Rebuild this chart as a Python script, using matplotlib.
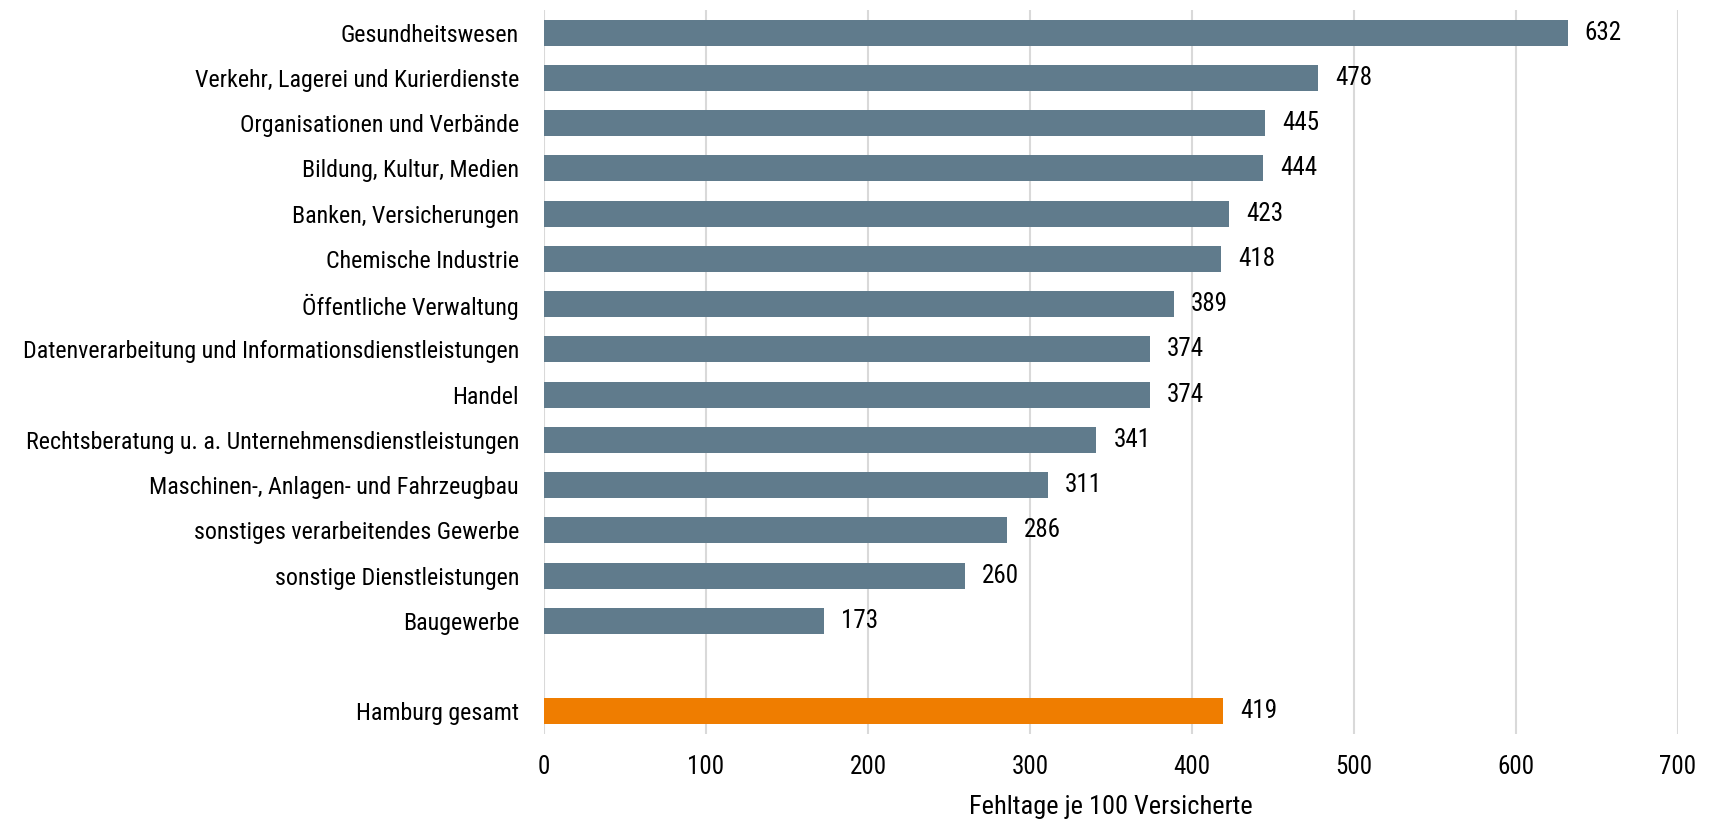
import matplotlib
matplotlib.use("Agg")
import matplotlib.pyplot as plt
from matplotlib import font_manager

categories = [
    "Gesundheitswesen",
    "Verkehr, Lagerei und Kurierdienste",
    "Organisationen und Verbände",
    "Bildung, Kultur, Medien",
    "Banken, Versicherungen",
    "Chemische Industrie",
    "Öffentliche Verwaltung",
    "Datenverarbeitung und Informationsdienstleistungen",
    "Handel",
    "Rechtsberatung u. a. Unternehmensdienstleistungen",
    "Maschinen-, Anlagen- und Fahrzeugbau",
    "sonstiges verarbeitendes Gewerbe",
    "sonstige Dienstleistungen",
    "Baugewerbe",
]
values = [632, 478, 445, 444, 423, 418, 389, 374, 374, 341, 311, 286, 260, 173]

total_label = "Hamburg gesamt"
total_value = 419

x_ticks = [0, 100, 200, 300, 400, 500, 600, 700]
x_label = "Fehltage je 100 Versicherte"


def first_installed(names):
    for n in names:
        try:
            font_manager.findfont(font_manager.FontProperties(family=n),
                                  fallback_to_default=False)
            return n
        except Exception:
            continue
    return "DejaVu Sans"


narrow = first_installed(["Liberation Sans Narrow", "Arial Narrow",
                          "Roboto Condensed", "Open Sans Condensed",
                          "DejaVu Sans Condensed"])
regular = first_installed(["Liberation Sans", "Arial", "Roboto", "DejaVu Sans"])
is_narrow = narrow != "DejaVu Sans"
FONT = narrow if is_narrow else regular
plt.rcParams["font.family"] = [FONT, "DejaVu Sans"]

bar_color = "#607B8C"
total_color = "#EF7D00"
grid_color = "#D9D9D9"
fs = 18

W, H = 1710, 824
fig = plt.figure(figsize=(W / 100, H / 100), dpi=100)
ax = fig.add_axes([544 / W, 1 - 734 / H, (1678 - 544) / W, (734 - 10) / H])

positions = list(range(len(categories)))
total_pos = len(categories) + 1

ax.barh(positions, values, height=0.57, color=bar_color, zorder=3)
ax.barh([total_pos], [total_value], height=0.57, color=total_color, zorder=3)

for p, v in zip(positions + [total_pos], values + [total_value]):
    ax.annotate(str(v), xy=(v, p), xytext=(17, 0), textcoords="offset pixels",
                ha="left", va="center", fontsize=fs, color="#000000")

# category labels: largest size at which the longest one fits left of the axis
renderer = fig.canvas.get_renderer()
longest = max(categories + [total_label], key=len)
label_fs = 20.0
while label_fs > 8:
    t = fig.text(0, 0, longest, fontsize=label_fs)
    w = t.get_window_extent(renderer).width
    t.remove()
    if w <= 500:
        break
    label_fs -= 0.25

ax.set_yticks(positions + [total_pos])
ax.set_yticklabels(categories + [total_label], fontsize=label_fs)
ax.set_ylim(len(categories) + 1.5, -0.5)
ax.set_xlim(0, 700)
ax.set_xticks(x_ticks)
ax.set_xticklabels([str(t) for t in x_ticks], fontsize=fs)
ax.set_xlabel(x_label, fontsize=fs + 1)
ax.xaxis.set_label_coords(0.5, -(807 - 734) / (734 - 10))
ax.xaxis.label.set_va("center")

ax.tick_params(axis="y", length=0, pad=18)
ax.tick_params(axis="x", length=0, pad=15)
for s in ax.spines.values():
    s.set_visible(False)

ax.xaxis.grid(True, color=grid_color, linewidth=1.5, zorder=0)
ax.set_axisbelow(True)

fig.savefig("out.png", dpi=100, facecolor="white")
